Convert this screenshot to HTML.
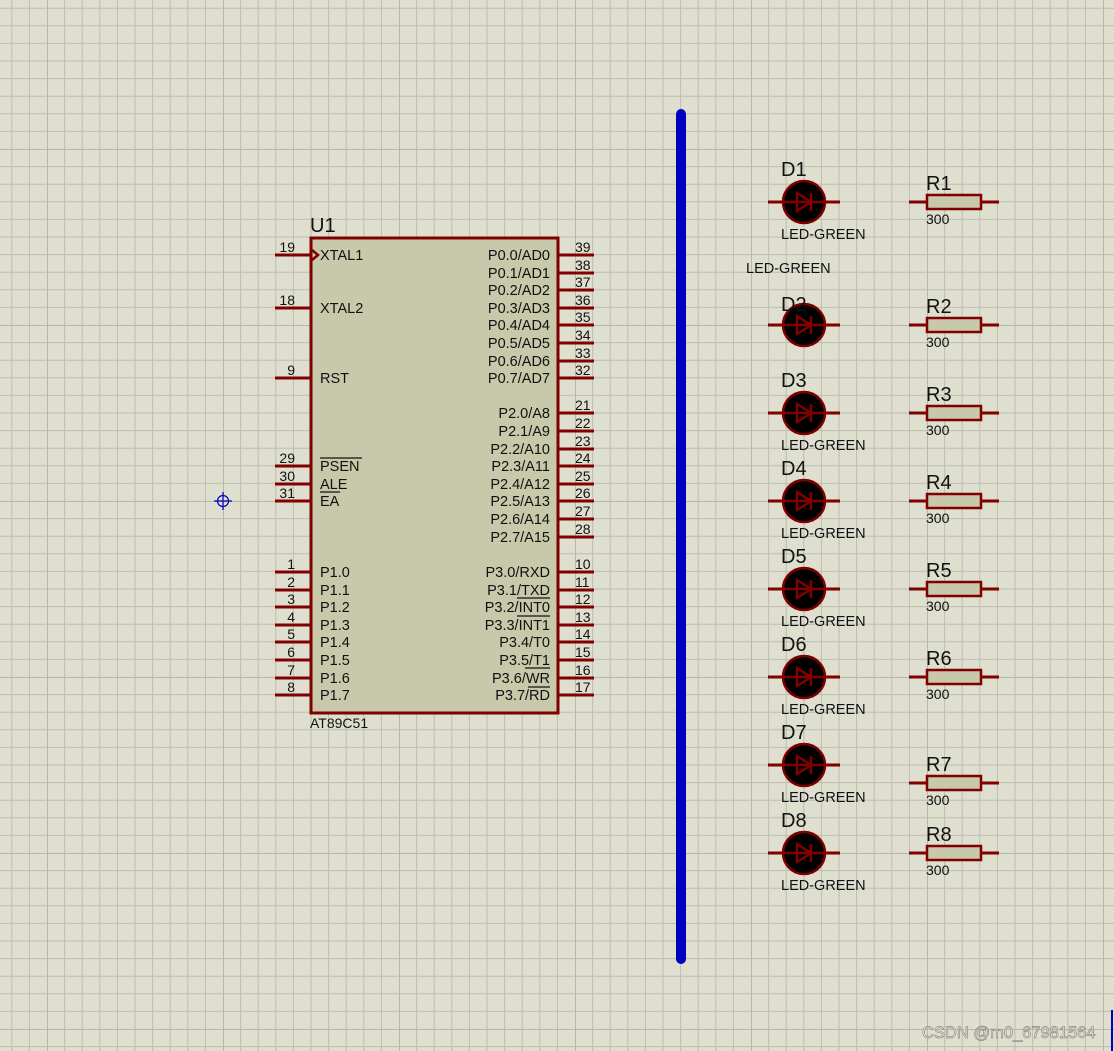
<!DOCTYPE html>
<html><head><meta charset="utf-8"><style>
html,body{margin:0;padding:0;background:#dfdfd0;}
svg{display:block;}
text{font-family:"Liberation Sans",sans-serif;fill:#111;}
</style></head><body>
<svg width="1114" height="1051" viewBox="0 0 1114 1051" xmlns="http://www.w3.org/2000/svg">
<defs>
<pattern id="g" patternUnits="userSpaceOnUse" x="47" y="149" width="176" height="176">
<g stroke="#bdbdb0" stroke-width="1">
<line x1="17.6" y1="0" x2="17.6" y2="176"/><line x1="35.2" y1="0" x2="35.2" y2="176"/><line x1="52.8" y1="0" x2="52.8" y2="176"/><line x1="70.4" y1="0" x2="70.4" y2="176"/><line x1="88" y1="0" x2="88" y2="176"/><line x1="105.6" y1="0" x2="105.6" y2="176"/><line x1="123.2" y1="0" x2="123.2" y2="176"/><line x1="140.8" y1="0" x2="140.8" y2="176"/><line x1="158.4" y1="0" x2="158.4" y2="176"/>
<line y1="17.6" x1="0" y2="17.6" x2="176"/><line y1="35.2" x1="0" y2="35.2" x2="176"/><line y1="52.8" x1="0" y2="52.8" x2="176"/><line y1="70.4" x1="0" y2="70.4" x2="176"/><line y1="88" x1="0" y2="88" x2="176"/><line y1="105.6" x1="0" y2="105.6" x2="176"/><line y1="123.2" x1="0" y2="123.2" x2="176"/><line y1="140.8" x1="0" y2="140.8" x2="176"/><line y1="158.4" x1="0" y2="158.4" x2="176"/>
</g>
<g stroke="#b8b8aa" stroke-width="2"><line x1="0" y1="0" x2="0" y2="176"/><line x1="0" y1="0" x2="176" y2="0"/></g>
</pattern>
</defs>
<rect width="1114" height="1051" fill="#dfdfd0"/>
<rect width="1114" height="1051" fill="url(#g)"/>

<g stroke="#0000c0" stroke-width="1.2" fill="none"><circle cx="223" cy="501" r="5.5"/><line x1="214" y1="501" x2="232" y2="501"/><line x1="223" y1="492" x2="223" y2="510"/></g>

<line x1="681" y1="114" x2="681" y2="959" stroke="#0000c0" stroke-width="10" stroke-linecap="round"/>
<line x1="1112" y1="1010" x2="1112" y2="1051" stroke="#0000c0" stroke-width="2"/>

<g stroke="#800000" stroke-width="3">
<line x1="275" y1="255" x2="311" y2="255"/><line x1="275" y1="308" x2="311" y2="308"/><line x1="275" y1="378" x2="311" y2="378"/>
<line x1="275" y1="466" x2="311" y2="466"/><line x1="275" y1="484" x2="311" y2="484"/><line x1="275" y1="501" x2="311" y2="501"/>
<line x1="275" y1="572" x2="311" y2="572"/><line x1="275" y1="590" x2="311" y2="590"/><line x1="275" y1="607" x2="311" y2="607"/><line x1="275" y1="625" x2="311" y2="625"/><line x1="275" y1="642" x2="311" y2="642"/><line x1="275" y1="660" x2="311" y2="660"/><line x1="275" y1="678" x2="311" y2="678"/><line x1="275" y1="695" x2="311" y2="695"/>
<line x1="558" y1="255" x2="594" y2="255"/><line x1="558" y1="273" x2="594" y2="273"/><line x1="558" y1="290" x2="594" y2="290"/><line x1="558" y1="308" x2="594" y2="308"/><line x1="558" y1="325" x2="594" y2="325"/><line x1="558" y1="343" x2="594" y2="343"/><line x1="558" y1="361" x2="594" y2="361"/><line x1="558" y1="378" x2="594" y2="378"/>
<line x1="558" y1="413" x2="594" y2="413"/><line x1="558" y1="431" x2="594" y2="431"/><line x1="558" y1="449" x2="594" y2="449"/><line x1="558" y1="466" x2="594" y2="466"/><line x1="558" y1="484" x2="594" y2="484"/><line x1="558" y1="501" x2="594" y2="501"/><line x1="558" y1="519" x2="594" y2="519"/><line x1="558" y1="537" x2="594" y2="537"/>
<line x1="558" y1="572" x2="594" y2="572"/><line x1="558" y1="590" x2="594" y2="590"/><line x1="558" y1="607" x2="594" y2="607"/><line x1="558" y1="625" x2="594" y2="625"/><line x1="558" y1="642" x2="594" y2="642"/><line x1="558" y1="660" x2="594" y2="660"/><line x1="558" y1="678" x2="594" y2="678"/><line x1="558" y1="695" x2="594" y2="695"/>
</g>
<rect x="311" y="238" width="247" height="475" fill="#c8c8aa" stroke="#800000" stroke-width="3"/>
<path d="M312 250 L318 255 L312 260" fill="none" stroke="#800000" stroke-width="2.5"/>

<text x="310" y="232" font-size="20">U1</text>
<text x="310" y="728" font-size="14">AT89C51</text>

<g font-size="14.5">
<text x="320" y="260">XTAL1</text><text x="320" y="313">XTAL2</text><text x="320" y="383">RST</text>
<text x="320" y="471">PSEN</text><text x="320" y="489">ALE</text><text x="320" y="506">EA</text>
<text x="320" y="577">P1.0</text><text x="320" y="595">P1.1</text><text x="320" y="612">P1.2</text><text x="320" y="630">P1.3</text><text x="320" y="647">P1.4</text><text x="320" y="665">P1.5</text><text x="320" y="683">P1.6</text><text x="320" y="700">P1.7</text>
</g>
<g font-size="14.5" text-anchor="end">
<text x="550" y="260">P0.0/AD0</text><text x="550" y="278">P0.1/AD1</text><text x="550" y="295">P0.2/AD2</text><text x="550" y="313">P0.3/AD3</text><text x="550" y="330">P0.4/AD4</text><text x="550" y="348">P0.5/AD5</text><text x="550" y="366">P0.6/AD6</text><text x="550" y="383">P0.7/AD7</text>
<text x="550" y="418">P2.0/A8</text><text x="550" y="436">P2.1/A9</text><text x="550" y="454">P2.2/A10</text><text x="550" y="471">P2.3/A11</text><text x="550" y="489">P2.4/A12</text><text x="550" y="506">P2.5/A13</text><text x="550" y="524">P2.6/A14</text><text x="550" y="542">P2.7/A15</text>
<text x="550" y="577">P3.0/RXD</text><text x="550" y="595">P3.1/TXD</text><text x="550" y="612">P3.2/INT0</text><text x="550" y="630">P3.3/INT1</text><text x="550" y="647">P3.4/T0</text><text x="550" y="665">P3.5/T1</text><text x="550" y="683">P3.6/WR</text><text x="550" y="700">P3.7/RD</text>
</g>
<g stroke="#111" stroke-width="1.2">
<line x1="320" y1="458" x2="362" y2="458"/><line x1="320" y1="492" x2="340" y2="492"/>
<line x1="517" y1="598" x2="550" y2="598"/><line x1="517" y1="616" x2="550" y2="616"/><line x1="525" y1="668" x2="550" y2="668"/><line x1="528" y1="687" x2="550" y2="687"/>
</g>
<g font-size="14" text-anchor="end">
<text x="295" y="252">19</text><text x="295" y="305">18</text><text x="295" y="375">9</text>
<text x="295" y="463">29</text><text x="295" y="481">30</text><text x="295" y="498">31</text>
<text x="295" y="569">1</text><text x="295" y="587">2</text><text x="295" y="604">3</text><text x="295" y="622">4</text><text x="295" y="639">5</text><text x="295" y="657">6</text><text x="295" y="675">7</text><text x="295" y="692">8</text>
</g>
<g font-size="14">
<text x="575" y="252">39</text><text x="575" y="270">38</text><text x="575" y="287">37</text><text x="575" y="305">36</text><text x="575" y="322">35</text><text x="575" y="340">34</text><text x="575" y="358">33</text><text x="575" y="375">32</text>
<text x="575" y="410">21</text><text x="575" y="428">22</text><text x="575" y="446">23</text><text x="575" y="463">24</text><text x="575" y="481">25</text><text x="575" y="498">26</text><text x="575" y="516">27</text><text x="575" y="534">28</text>
<text x="575" y="569">10</text><text x="575" y="587">11</text><text x="575" y="604">12</text><text x="575" y="622">13</text><text x="575" y="639">14</text><text x="575" y="657">15</text><text x="575" y="675">16</text><text x="575" y="692">17</text>
</g>

<g>
<g transform="translate(804,202)"><line x1="-36" y1="0" x2="36" y2="0" stroke="#800000" stroke-width="3"/><circle r="21" fill="#000" stroke="#800000" stroke-width="2.5"/><line x1="-22" x2="22" stroke="#800000" stroke-width="2.5"/><path d="M-7 -9 L7 0 L-7 9 Z" fill="none" stroke="#800000" stroke-width="2.5"/><line x1="7" y1="-9" x2="7" y2="9" stroke="#800000" stroke-width="2.5"/></g>
<g transform="translate(804,325)"><line x1="-36" y1="0" x2="36" y2="0" stroke="#800000" stroke-width="3"/><circle r="21" fill="#000" stroke="#800000" stroke-width="2.5"/><line x1="-22" x2="22" stroke="#800000" stroke-width="2.5"/><path d="M-7 -9 L7 0 L-7 9 Z" fill="none" stroke="#800000" stroke-width="2.5"/><line x1="7" y1="-9" x2="7" y2="9" stroke="#800000" stroke-width="2.5"/></g>
<g transform="translate(804,413)"><line x1="-36" y1="0" x2="36" y2="0" stroke="#800000" stroke-width="3"/><circle r="21" fill="#000" stroke="#800000" stroke-width="2.5"/><line x1="-22" x2="22" stroke="#800000" stroke-width="2.5"/><path d="M-7 -9 L7 0 L-7 9 Z" fill="none" stroke="#800000" stroke-width="2.5"/><line x1="7" y1="-9" x2="7" y2="9" stroke="#800000" stroke-width="2.5"/></g>
<g transform="translate(804,501)"><line x1="-36" y1="0" x2="36" y2="0" stroke="#800000" stroke-width="3"/><circle r="21" fill="#000" stroke="#800000" stroke-width="2.5"/><line x1="-22" x2="22" stroke="#800000" stroke-width="2.5"/><path d="M-7 -9 L7 0 L-7 9 Z" fill="none" stroke="#800000" stroke-width="2.5"/><line x1="7" y1="-9" x2="7" y2="9" stroke="#800000" stroke-width="2.5"/></g>
<g transform="translate(804,589)"><line x1="-36" y1="0" x2="36" y2="0" stroke="#800000" stroke-width="3"/><circle r="21" fill="#000" stroke="#800000" stroke-width="2.5"/><line x1="-22" x2="22" stroke="#800000" stroke-width="2.5"/><path d="M-7 -9 L7 0 L-7 9 Z" fill="none" stroke="#800000" stroke-width="2.5"/><line x1="7" y1="-9" x2="7" y2="9" stroke="#800000" stroke-width="2.5"/></g>
<g transform="translate(804,677)"><line x1="-36" y1="0" x2="36" y2="0" stroke="#800000" stroke-width="3"/><circle r="21" fill="#000" stroke="#800000" stroke-width="2.5"/><line x1="-22" x2="22" stroke="#800000" stroke-width="2.5"/><path d="M-7 -9 L7 0 L-7 9 Z" fill="none" stroke="#800000" stroke-width="2.5"/><line x1="7" y1="-9" x2="7" y2="9" stroke="#800000" stroke-width="2.5"/></g>
<g transform="translate(804,765)"><line x1="-36" y1="0" x2="36" y2="0" stroke="#800000" stroke-width="3"/><circle r="21" fill="#000" stroke="#800000" stroke-width="2.5"/><line x1="-22" x2="22" stroke="#800000" stroke-width="2.5"/><path d="M-7 -9 L7 0 L-7 9 Z" fill="none" stroke="#800000" stroke-width="2.5"/><line x1="7" y1="-9" x2="7" y2="9" stroke="#800000" stroke-width="2.5"/></g>
<g transform="translate(804,853)"><line x1="-36" y1="0" x2="36" y2="0" stroke="#800000" stroke-width="3"/><circle r="21" fill="#000" stroke="#800000" stroke-width="2.5"/><line x1="-22" x2="22" stroke="#800000" stroke-width="2.5"/><path d="M-7 -9 L7 0 L-7 9 Z" fill="none" stroke="#800000" stroke-width="2.5"/><line x1="7" y1="-9" x2="7" y2="9" stroke="#800000" stroke-width="2.5"/></g>
</g>
<g font-size="20">
<text x="781" y="176">D1</text><text x="781" y="311">D2</text><text x="781" y="387">D3</text><text x="781" y="475">D4</text><text x="781" y="563">D5</text><text x="781" y="651">D6</text><text x="781" y="739">D7</text><text x="781" y="827">D8</text>
</g>
<g font-size="14.5">
<text x="781" y="239">LED-GREEN</text><text x="746" y="273">LED-GREEN</text><text x="781" y="450">LED-GREEN</text><text x="781" y="538">LED-GREEN</text><text x="781" y="626">LED-GREEN</text><text x="781" y="714">LED-GREEN</text><text x="781" y="802">LED-GREEN</text><text x="781" y="890">LED-GREEN</text>
</g>

<g stroke="#800000" stroke-width="3">
<line x1="909" y1="202" x2="999" y2="202"/><line x1="909" y1="325" x2="999" y2="325"/><line x1="909" y1="413" x2="999" y2="413"/><line x1="909" y1="501" x2="999" y2="501"/><line x1="909" y1="589" x2="999" y2="589"/><line x1="909" y1="677" x2="999" y2="677"/><line x1="909" y1="783" x2="999" y2="783"/><line x1="909" y1="853" x2="999" y2="853"/>
</g>
<g fill="#c8c8aa" stroke="#800000" stroke-width="2.5">
<rect x="927" y="195" width="54" height="14"/><rect x="927" y="318" width="54" height="14"/><rect x="927" y="406" width="54" height="14"/><rect x="927" y="494" width="54" height="14"/><rect x="927" y="582" width="54" height="14"/><rect x="927" y="670" width="54" height="14"/><rect x="927" y="776" width="54" height="14"/><rect x="927" y="846" width="54" height="14"/>
</g>
<g font-size="20">
<text x="926" y="190">R1</text><text x="926" y="313">R2</text><text x="926" y="401">R3</text><text x="926" y="489">R4</text><text x="926" y="577">R5</text><text x="926" y="665">R6</text><text x="926" y="771">R7</text><text x="926" y="841">R8</text>
</g>
<g font-size="14">
<text x="926" y="224">300</text><text x="926" y="347">300</text><text x="926" y="435">300</text><text x="926" y="523">300</text><text x="926" y="611">300</text><text x="926" y="699">300</text><text x="926" y="805">300</text><text x="926" y="875">300</text>
</g>

<text x="922" y="1038" font-size="16.5" style="fill:#f4f4ee;stroke:#8a8a80;stroke-width:0.7">CSDN @m0_67981564</text>
</svg>
</body></html>
